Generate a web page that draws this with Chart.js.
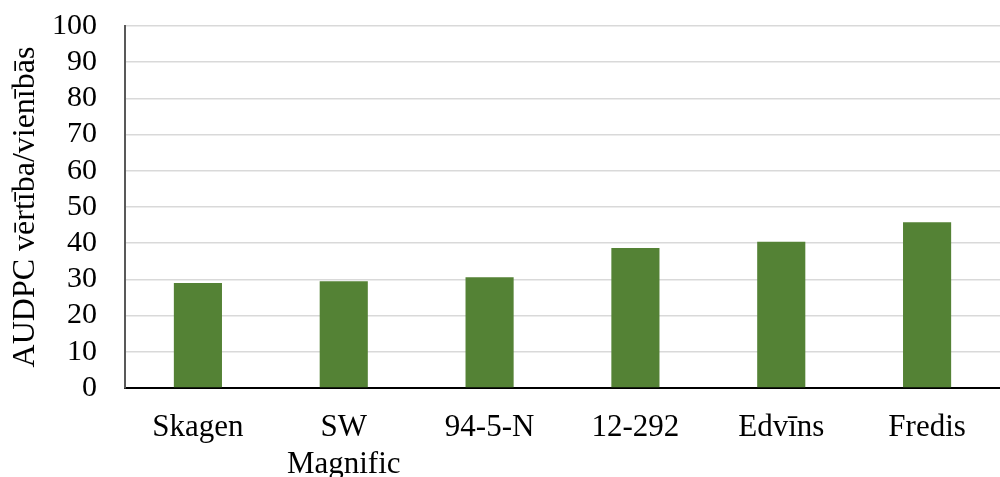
<!DOCTYPE html>
<html>
<head>
<meta charset="utf-8">
<script src="https://cdn.jsdelivr.net/npm/chart.js@4"></script>
<style>
  html, body { margin: 0; padding: 0; background: #fff; }
  #wrap { width: 1000px; height: 477px; }
</style>
</head>
<body>
<div id="wrap"><canvas id="chart"></canvas></div>
<script>
const categories = ['Skagen', ['SW', 'Magnific'], '94-5-N', '12-292', 'Edvīns', 'Fredis'];
const audpcValues = [29.0, 29.5, 30.6, 38.7, 40.4, 45.8];
const yTitle = 'AUDPC vērtība/vienībās';

const serif = '"Liberation Serif", "Times New Roman", serif';

let ctx = document.getElementById('chart').getContext('2d');

new Chart(ctx, {
  type: 'bar',
  data: {
    labels: categories,
    datasets: [{
      data: audpcValues,
      backgroundColor: '#548235',
      borderWidth: 0,
      categoryPercentage: 1,
      barPercentage: 0.33
    }]
  },
  options: {
    responsive: true,
    maintainAspectRatio: false,
    animation: false,
    layout: { padding: { top: 26, right: 0, left: 0, bottom: 0 } },
    plugins: {
      legend: { display: false },
      tooltip: { enabled: false }
    },
    scales: {
      x: {
        grid: { display: false },
        border: { display: true, color: '#000', width: 2 },
        ticks: {
          color: '#000',
          font: { family: serif, size: 31, lineHeight: 1.18 },
          padding: 14,
          maxRotation: 0,
          autoSkip: false
        },
        afterFit: function(scale) {
          scale.height = 89;
          scale.paddingLeft = 0;
          scale.paddingRight = 0;
        }
      },
      y: {
        min: 0,
        max: 100,
        ticks: {
          stepSize: 10,
          autoSkip: false,
          color: '#000',
          font: { family: serif, size: 30 },
          padding: 28
        },
        grid: { color: '#d9d9d9', lineWidth: 1.5, drawTicks: false },
        border: { display: true, color: '#595959', width: 2 },
        title: {
          display: true,
          text: yTitle,
          color: '#000',
          font: { family: serif, size: 32, lineHeight: 1.2 },
          padding: { top: 6, bottom: 0 }
        },
        afterFit: function(scale) {
          scale.width = 125;
          scale.paddingTop = 0;
          scale.paddingBottom = 0;
        }
      }
    }
  }
});
</script>
</body>
</html>
